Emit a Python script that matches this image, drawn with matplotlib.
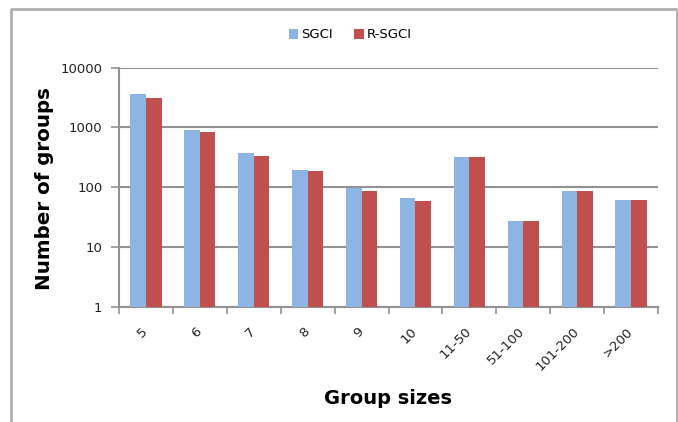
import matplotlib
matplotlib.use("Agg")
import matplotlib.pyplot as plt
from matplotlib.lines import Line2D
from matplotlib.ticker import FixedLocator, NullFormatter, NullLocator
import numpy as np

categories = ["5", "6", "7", "8", "9", "10", "11-50", "51-100", "101-200", ">200"]
sgci = [3630, 912, 369, 197, 99, 67, 316, 27.5, 88, 62]
r_sgci = [3110, 835, 333, 185, 87, 59, 316, 27.5, 88, 62]
y_ticks = [1, 10, 100, 1000, 10000]

blue = "#8DB4E2"
red = "#C0504D"
grid_gray = "#929292"

plt.rcParams["font.family"] = ["DejaVu Sans"]

fig = plt.figure(figsize=(6.78, 4.22), dpi=100)
W, H = 678, 422
ax = fig.add_axes([119 / W, 1 - 307 / H, (658 - 119) / W, (307 - 67.5) / H])

x = np.arange(len(categories))
bw = 0.29
ax.bar(x - bw / 2, sgci, width=bw, color=blue, label="SGCI", zorder=3)
ax.bar(x + bw / 2, r_sgci, width=bw, color=red, label="R-SGCI", zorder=3)

ax.set_yscale("log")
ax.set_ylim(1, 10000)
ax.yaxis.set_major_locator(FixedLocator(y_ticks))
ax.set_yticklabels([str(v) for v in y_ticks], fontsize=9.5, color="#222222")
ax.yaxis.set_minor_locator(NullLocator())
ax.yaxis.grid(True, color=grid_gray, linewidth=1.5, zorder=0)

# category labels sit slightly right of each group centre, rotated 45 degrees
ax.set_xlim(-0.5, len(categories) - 0.5)
ax.xaxis.set_major_locator(FixedLocator(np.arange(len(categories) + 1) - 0.5))
ax.xaxis.set_major_formatter(NullFormatter())
ax.xaxis.set_minor_locator(FixedLocator(x + 0.08))
ax.set_xticklabels(categories, minor=True, rotation=45, ha="right", va="top",
                   fontsize=9.5, color="#222222")
ax.tick_params(axis="x", which="minor", length=0, pad=13)
ax.tick_params(axis="x", which="major", length=5, width=1.2, color=grid_gray)
ax.tick_params(axis="y", which="major", length=6, width=1.2, color=grid_gray, pad=6)

for s in ["top", "right"]:
    ax.spines[s].set_visible(False)
for s in ["left", "bottom"]:
    ax.spines[s].set_color(grid_gray)
    ax.spines[s].set_linewidth(1.5)

ax.set_xlabel("Group sizes", fontsize=14, fontweight="bold")
ax.set_ylabel("Number of groups", fontsize=14.3, fontweight="bold")
ax.xaxis.set_label_coords(388.5 / W, 1 - 399 / H, transform=fig.transFigure)
ax.yaxis.set_label_coords(45 / W, 1 - 189 / H, transform=fig.transFigure)
ax.xaxis.label.set_va("center")
ax.yaxis.label.set_va("center")

fig.legend(loc="center", bbox_to_anchor=(350 / W, 1 - 35 / H), ncol=2,
           frameon=False, fontsize=9.5, handlelength=0.75, handleheight=0.75,
           handletextpad=0.2, columnspacing=1.6)

# outer chart frame: top and both sides
border = "#B0B0B0"
xl, xr, yt = 10.7 / W, 676.7 / W, 1 - 9.3 / H
fig.add_artist(Line2D([xl, xl, xr, xr], [0, yt, yt, 0], color=border,
                      linewidth=2, transform=fig.transFigure))

fig.savefig("out.png", dpi=100)
